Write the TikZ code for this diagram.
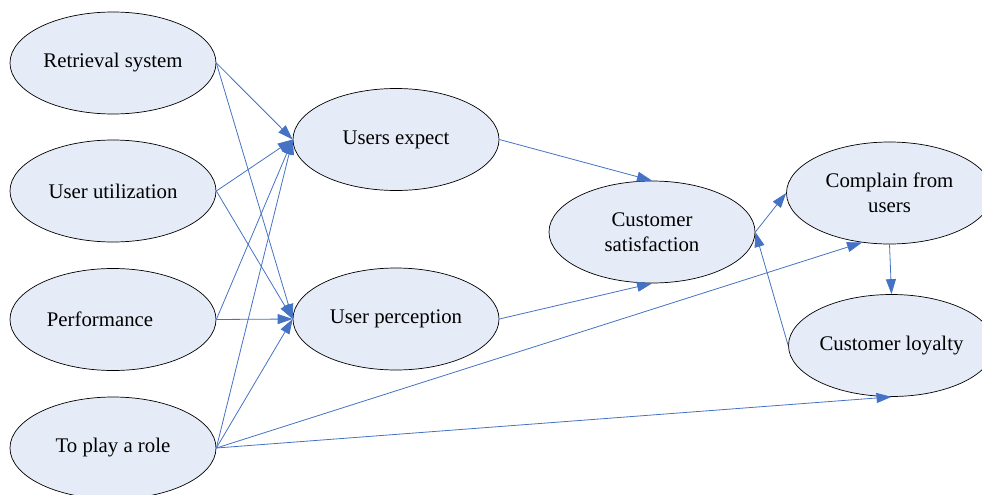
\documentclass[tikz,border=0pt]{standalone}
\usepackage{fontspec}
\setmainfont{Liberation Serif}
\usetikzlibrary{shapes.geometric,arrows.meta}
\definecolor{efill}{RGB}{230,236,247}
\definecolor{eblue}{RGB}{68,114,196}
\tikzset{
  ell/.style={ellipse, draw=black, line width=0.7pt, fill=efill,
    minimum width=206pt, minimum height=102pt, inner sep=0pt,
    align=center, font=\fontsize{20.8}{24.5}\selectfont},
  conn/.style={draw=eblue, line width=0.8pt,
    -{Triangle[length=15pt,width=10pt]}}
}
\begin{document}
\begin{tikzpicture}[x=1pt,y=-1pt]
\useasboundingbox (0,0) rectangle (982,495);
\clip (0,0) rectangle (982,495);
\node[ell] (rs) at (113,63) {Retrieval system};
\node[ell] (uu) at (113,191) {User utilization};
\node[ell] (pf) at (113,319.5) {\hspace*{-26pt}Performance};
\node[ell] (pr) at (113,448) {To play a role};
\node[ell] (ue) at (396,139.5) {Users expect};
\node[ell] (up) at (396,319) {User perception};
\node[ell] (cs) at (652,232) {Customer\\satisfaction};
\node[ell] (cfu) at (889.5,193) {Complain from\\users};
\node[ell] (cl) at (891.5,345.5) {Customer loyalty};

\draw[conn] (rs.east) -- (ue.west);
\draw[conn] (rs.east) -- (up.west);
\draw[conn] (uu.east) -- (ue.west);
\draw[conn] (uu.east) -- (up.west);
\draw[conn] (pf.east) -- (ue.west);
\draw[conn] (pf.east) -- (up.west);
\draw[conn] (pr.east) -- (ue.west);
\draw[conn] (pr.east) -- (up.west);
\draw[conn] (pr.east) -- (cfu.241);
\draw[conn] (pr.east) -- (cl.south);
\draw[conn] (ue.east) -- (cs.north);
\draw[conn] (up.east) -- (cs.south);
\draw[conn] (cs.east) -- (cfu.west);
\draw[conn] (cl.west) -- (cs.east);
\draw[conn] (cfu.south) -- (cl.north);
\end{tikzpicture}
\end{document}
